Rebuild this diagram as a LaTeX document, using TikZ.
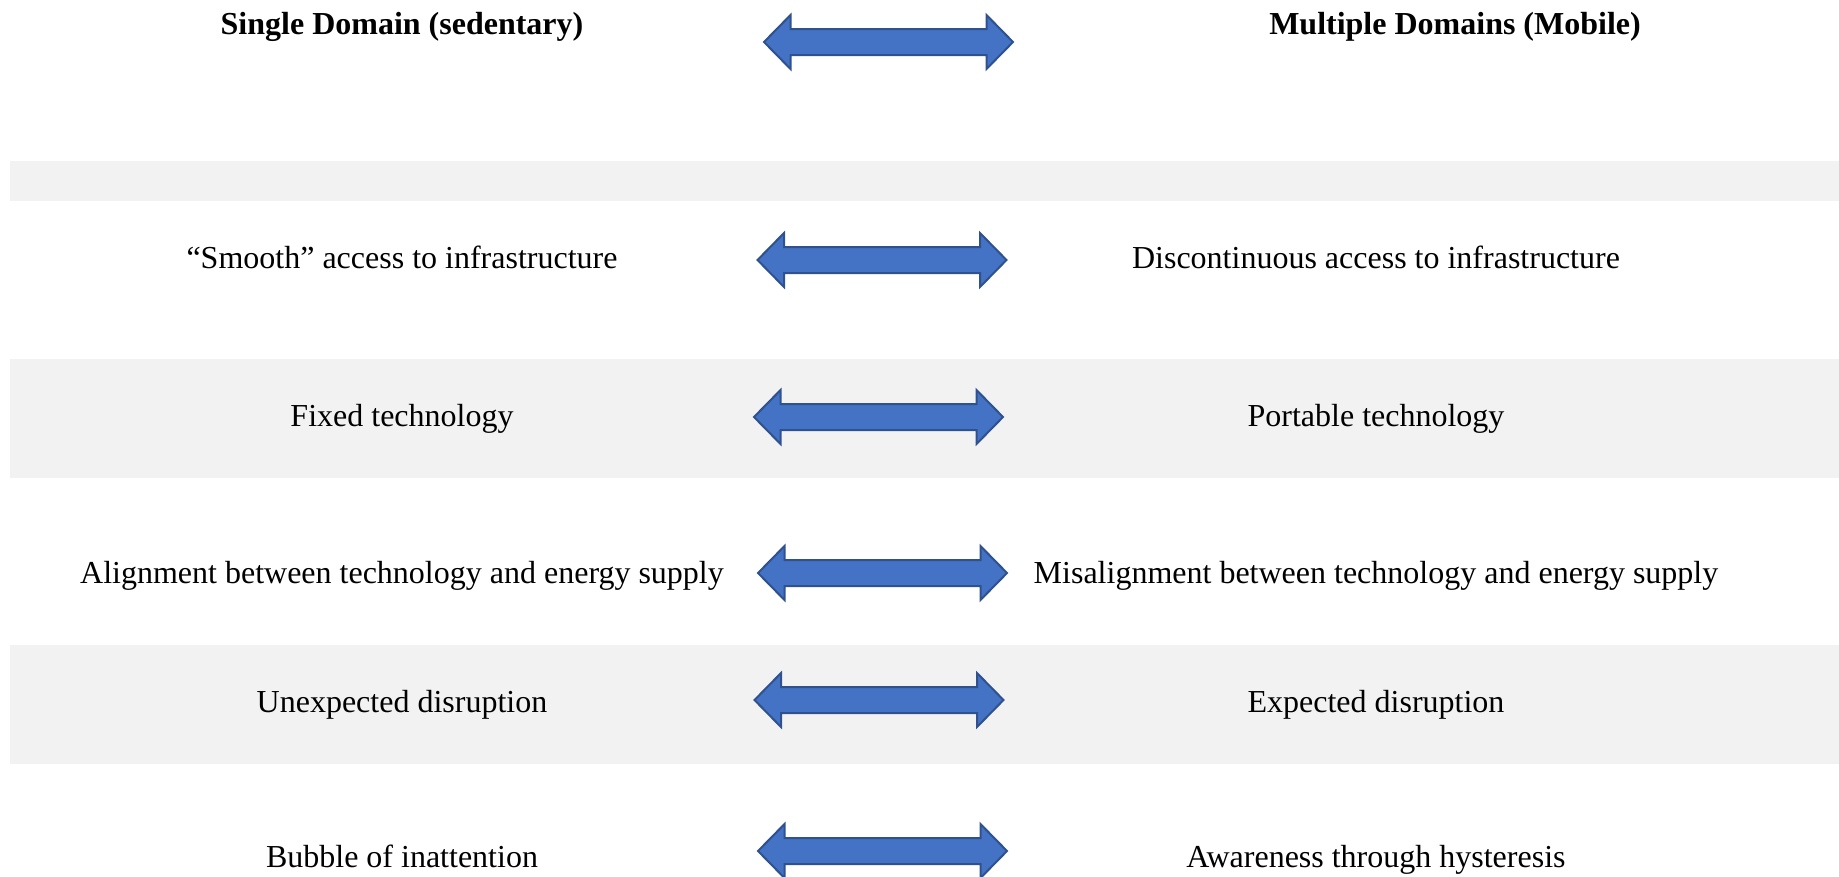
\documentclass[tikz,border=0pt]{standalone}
\usepackage{fontspec}
\setmainfont{Liberation Serif}
\definecolor{bandgray}{HTML}{F2F2F2}
\definecolor{arrfill}{HTML}{4472C4}
\definecolor{arrline}{HTML}{2F528F}
\begin{document}
\begin{tikzpicture}[x=1pt,y=-1pt,
  lbl/.style={font=\fontsize{32}{38}\selectfont, inner sep=0pt, text height=22pt, text depth=7pt},
  hdr/.style={font=\fontsize{32}{38}\selectfont\bfseries, inner sep=0pt, text height=22pt, text depth=7pt},
  bandfill/.style={fill=bandgray, draw=none},
  arrstyle/.style={fill=arrfill, draw=arrline, line width=2pt, line join=miter},
  dblarrow/.pic={\path[arrstyle] (-124.5,0) -- (-98,-27) -- (-98,-13) -- (98,-13) -- (98,-27)
      -- (124.5,0) -- (98,27) -- (98,13) -- (-98,13) -- (-98,27) -- cycle;}]
\useasboundingbox (0,0) rectangle (1839,876);
% bands
\path[bandfill] (10,161) rectangle (1839,201);
\path[bandfill] (10,359) rectangle (1839,478);
\path[bandfill] (10,645) rectangle (1839,764);
% headers
\node[hdr] (hl) at (402,27) {Single Domain (sedentary)};
\node[hdr] (hr) at (1455,27) {Multiple Domains (Mobile)};
\pic at (888.5,42) {dblarrow};
% rows
\node[lbl] (l1) at (402,261) {“Smooth” access to infrastructure};
\node[lbl] (r1) at (1376,261) {Discontinuous access to infrastructure};
\pic at (882,260) {dblarrow};
\node[lbl] (l2) at (402,419) {Fixed technology};
\node[lbl] (r2) at (1376,419) {Portable technology};
\pic at (878.5,417) {dblarrow};
\node[lbl] (l3) at (402,576) {Alignment between technology and energy supply};
\node[lbl] (r3) at (1376,576) {Misalignment between technology and energy supply};
\pic at (882.5,573) {dblarrow};
\node[lbl] (l4) at (402,705) {Unexpected disruption};
\node[lbl] (r4) at (1376,705) {Expected disruption};
\pic at (879,700) {dblarrow};
\node[lbl] (l5) at (402,860) {Bubble of inattention};
\node[lbl] (r5) at (1376,860) {Awareness through hysteresis};
\pic at (882.5,851) {dblarrow};
\end{tikzpicture}
\end{document}
